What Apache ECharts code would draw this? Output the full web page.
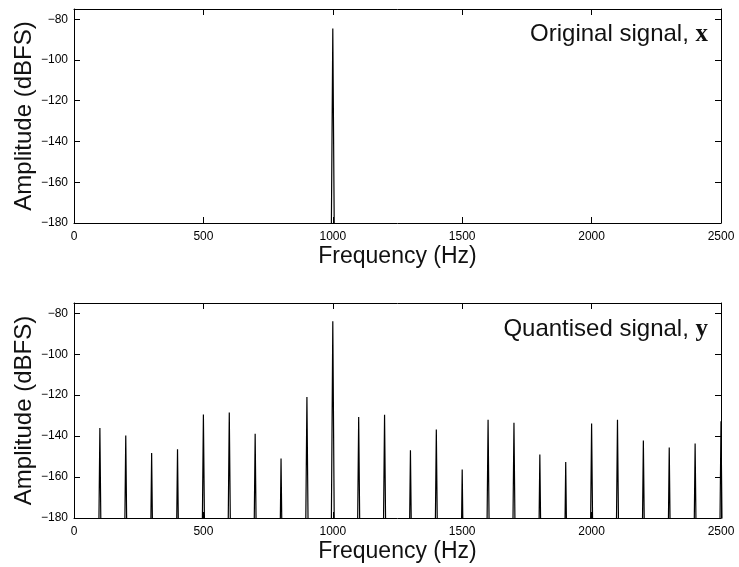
<!DOCTYPE html>
<html><head><meta charset="utf-8">
<script src="https://cdn.jsdelivr.net/npm/echarts@6/dist/echarts.min.js"></script>
<style>html,body{margin:0;padding:0;background:#fff}#c{width:739px;height:567px}</style>
</head><body><div id="c"></div>
<script>
// ---- data ----
const xTickValues = [0, 500, 1000, 1500, 2000, 2500];
const yTickValues = [-180, -160, -140, -120, -100, -80];
const originalFreqs = [1000];
const originalAmps = [-84.6];
const quantFreqs = [100, 200, 300, 400, 500, 600, 700, 800, 900, 1000, 1100, 1200, 1300,
  1400, 1500, 1600, 1700, 1800, 1900, 2000, 2100, 2200, 2300, 2400, 2500];
const quantAmps = [-136.1, -139.7, -148.2, -146.4, -129.4, -128.5, -138.9, -151.0, -120.9, -83.9,
  -130.7, -129.6, -146.9, -136.8, -156.3, -132.0, -133.5, -149.0, -152.6, -133.8, -132.0,
  -142.2, -145.6, -143.6, -132.7];
const noiseFloor = -260; // spectrum floor between bins (below visible range)
const binSpacing = 10;   // Hz between FFT bins around each spike

function spikes(freqs, amps) {
  const pts = [];
  freqs.forEach((f, i) => {
    pts.push([f - binSpacing, noiseFloor]);
    pts.push([f, amps[i]]);
    pts.push([f + binSpacing, noiseFloor]);
  });
  return pts;
}

const FONT = 'Liberation Sans';
const fmtY = v => (v < 0 ? '\u2212' + Math.abs(v) : String(v));
const fmtX = v => String(v);

const grids = [
  { left: 74, right: 18, top: 9, height: 214, containLabel: false, outerBoundsMode: 'none' },
  { left: 74, right: 18, top: 303, height: 215, containLabel: false, outerBoundsMode: 'none' }
];

const xAxes = [], yAxes = [];
grids.forEach((g, gi) => {
  const lineStyle = { color: '#000', width: 1 };
  xAxes.push({
    type: 'value', gridIndex: gi, position: 'bottom', min: xTickValues[0], max: xTickValues[xTickValues.length - 1], interval: 500,
    axisLine: { show: true, onZero: false, lineStyle },
    axisTick: { show: true, inside: true, length: 6, lineStyle },
    axisLabel: { show: true, fontFamily: FONT, fontSize: 12, color: '#000', margin: 8, formatter: fmtX },
    splitLine: { show: false },
    name: 'Frequency (Hz)', nameLocation: 'middle', nameGap: 22, nameMoveOverlap: false,
    nameTextStyle: { fontFamily: FONT, fontSize: 23, color: '#111' }
  });
  xAxes.push({
    type: 'value', gridIndex: gi, position: 'top', min: 0, max: 2500, interval: 500,
    axisLine: { show: true, onZero: false, lineStyle },
    axisTick: { show: true, inside: true, length: 6, lineStyle },
    axisLabel: { show: false }, splitLine: { show: false }
  });
  yAxes.push({
    type: 'value', gridIndex: gi, position: 'left', min: yTickValues[0], max: -75, interval: 20,
    axisLine: { show: true, onZero: false, lineStyle },
    axisTick: { show: true, inside: true, length: 6, lineStyle },
    axisLabel: { show: true, fontFamily: FONT, fontSize: 12, color: '#000', margin: 6, formatter: fmtY, showMaxLabel: false },
    splitLine: { show: false },
    name: 'Amplitude (dBFS)', nameLocation: 'middle', nameGap: 38, nameMoveOverlap: false,
    nameTextStyle: { fontFamily: FONT, fontSize: 24, color: '#111' }
  });
  yAxes.push({
    type: 'value', gridIndex: gi, position: 'right', min: -180, max: -75, interval: 20,
    axisLine: { show: true, onZero: false, lineStyle },
    axisTick: { show: true, inside: true, length: 6, lineStyle },
    axisLabel: { show: false }, splitLine: { show: false }
  });
});

const richStyle = {
  a: { fontFamily: FONT, fontWeight: 'normal', fontSize: 24, color: '#111' },
  b: { fontFamily: 'Liberation Serif', fontWeight: 'bold', fontSize: 25, color: '#111' }
};

const option = {
  animation: false,
  backgroundColor: '#fff',
  grid: grids,
  xAxis: xAxes,
  yAxis: yAxes,
  title: [
    { text: '{a|Original signal, }{b|x}', right: 31, top: 22, padding: 0, textStyle: { fontWeight: 'normal', rich: richStyle } },
    { text: '{a|Quantised signal, }{b|y}', right: 31, top: 317, padding: 0, textStyle: { fontWeight: 'normal', rich: richStyle } }
  ],
  series: [
    { type: 'line', xAxisIndex: 0, yAxisIndex: 0, data: spikes(originalFreqs, originalAmps),
      showSymbol: false, symbol: 'none', clip: true, lineStyle: { color: '#000', width: 1.2 } },
    { type: 'line', xAxisIndex: 2, yAxisIndex: 2, data: spikes(quantFreqs, quantAmps),
      showSymbol: false, symbol: 'none', clip: true, lineStyle: { color: '#000', width: 1.2 } }
  ]
};

const chart = echarts.init(document.getElementById('c'), null, { renderer: 'canvas' });
chart.setOption(option);
</script>
</body></html>
